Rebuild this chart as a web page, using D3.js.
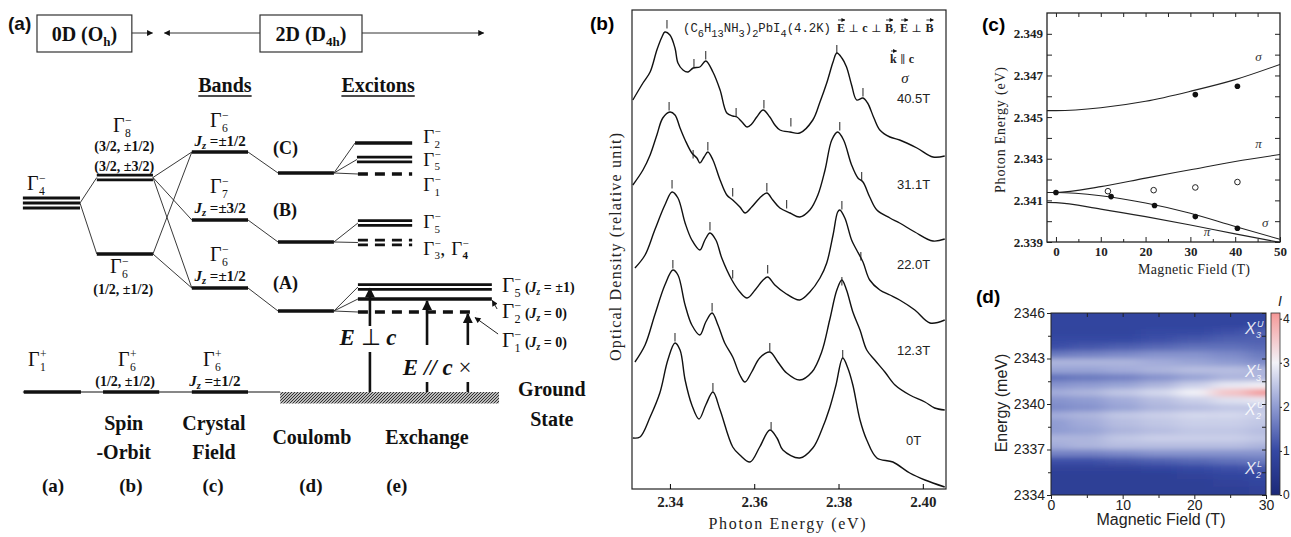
<!DOCTYPE html>
<html>
<head>
<meta charset="utf-8">
<script src="https://cdn.jsdelivr.net/npm/d3@7"></script>
<style>
  body { margin: 0; background: #fff; }
  svg { display: block; }
</style>
</head>
<body>
<svg id="fig" width="1291" height="537"></svg>
<script>
// ---- panel (b): spectra, [photon energy (eV), optical density (relative, offset)] ----
var spec405 = [[2.3312,38.9],[2.3336,40.6],[2.3353,41.7],[2.3369,43.9],[2.3381,45.2],[2.3388,45.7],[2.3400,45.4],[2.3412,44.1],[2.3419,42.6],[2.3431,41.9],[2.3443,41.7],[2.3455,42.1],[2.3471,42.2],[2.3485,42.8],[2.3502,41.7],[2.3519,39.9],[2.3535,37.6],[2.3549,37.3],[2.3559,37.2],[2.3571,36.7],[2.3583,36.2],[2.3594,36.5],[2.3606,37.2],[2.3621,37.9],[2.3637,37.2],[2.3649,36.4],[2.3661,35.9],[2.3685,35.7],[2.3708,35.6],[2.3739,36.9],[2.3756,38.7],[2.3772,40.6],[2.3787,42.7],[2.3796,43.6],[2.3808,43.1],[2.3819,42.2],[2.3831,40.4],[2.3843,38.9],[2.3858,39.1],[2.3869,38.6],[2.3884,37.1],[2.3898,35.9],[2.3922,35.2],[2.3945,34.9],[2.3986,34.1],[2.4024,33.2],[2.4052,33.3]];
var spec311 = [[2.3312,30.4],[2.3336,31.9],[2.3353,33.4],[2.3369,35.4],[2.3383,37.1],[2.3400,37.7],[2.3412,37.4],[2.3424,36.1],[2.3436,34.9],[2.3452,33.6],[2.3464,33.1],[2.3471,32.6],[2.3481,33.2],[2.3490,33.7],[2.3502,32.9],[2.3519,30.9],[2.3535,29.4],[2.3549,28.9],[2.3566,28.2],[2.3578,27.6],[2.3594,28.2],[2.3613,29.1],[2.3630,29.6],[2.3644,28.9],[2.3661,28.1],[2.3685,27.6],[2.3708,27.2],[2.3732,27.9],[2.3751,29.4],[2.3768,31.9],[2.3784,34.9],[2.3798,35.7],[2.3812,34.9],[2.3831,32.4],[2.3846,31.1],[2.3858,30.7],[2.3874,29.2],[2.3891,27.9],[2.3922,27.1],[2.3945,26.6],[2.3981,25.7],[2.4024,24.8],[2.4052,25.0]];
var spec220 = [[2.3317,22.1],[2.3341,23.4],[2.3364,25.9],[2.3388,28.4],[2.3405,29.7],[2.3419,29.1],[2.3436,26.6],[2.3452,24.9],[2.3471,23.9],[2.3483,24.9],[2.3495,25.6],[2.3509,24.9],[2.3523,23.1],[2.3547,20.9],[2.3566,19.7],[2.3583,19.1],[2.3602,19.9],[2.3621,20.9],[2.3632,21.2],[2.3649,20.4],[2.3673,19.6],[2.3708,18.9],[2.3732,19.7],[2.3756,21.1],[2.3772,22.6],[2.3787,25.4],[2.3798,27.7],[2.3803,27.9],[2.3815,27.1],[2.3831,24.9],[2.3843,23.9],[2.3858,22.7],[2.3874,20.9],[2.3898,19.9],[2.3922,19.4],[2.3945,18.9],[2.3981,17.9],[2.4017,16.6],[2.4052,16.9]];
var spec123 = [[2.3317,12.7],[2.3341,14.4],[2.3364,17.4],[2.3388,20.4],[2.3407,21.9],[2.3419,21.4],[2.3436,18.4],[2.3452,16.4],[2.3471,15.4],[2.3485,16.7],[2.3500,17.6],[2.3514,16.4],[2.3530,14.6],[2.3549,13.2],[2.3566,11.4],[2.3578,10.7],[2.3594,11.7],[2.3613,13.1],[2.3637,13.7],[2.3656,12.7],[2.3677,11.6],[2.3708,10.9],[2.3737,11.7],[2.3760,13.7],[2.3779,16.9],[2.3796,19.9],[2.3808,20.9],[2.3819,19.9],[2.3834,17.7],[2.3851,15.9],[2.3867,13.9],[2.3886,12.9],[2.3910,11.7],[2.3934,10.4],[2.3969,9.4],[2.4005,8.7],[2.4028,8.1],[2.4052,7.9]];
var spec0 = [[2.3312,5.1],[2.3329,5.2],[2.3353,7.2],[2.3376,9.6],[2.3395,12.9],[2.3412,14.6],[2.3424,13.9],[2.3436,10.9],[2.3452,8.4],[2.3469,7.0],[2.3485,8.4],[2.3502,9.7],[2.3519,7.9],[2.3549,4.2],[2.3566,3.4],[2.3590,2.7],[2.3613,4.2],[2.3637,5.9],[2.3654,5.1],[2.3668,3.9],[2.3708,3.1],[2.3739,4.1],[2.3760,5.9],[2.3779,8.1],[2.3794,10.4],[2.3810,13.1],[2.3822,12.1],[2.3834,10.4],[2.3851,6.9],[2.3867,4.9],[2.3891,3.1],[2.3929,2.7],[2.3969,1.6],[2.4005,0.9],[2.4052,0.2]];
var specFields = ["40.5T", "31.1T", "22.0T", "12.3T", "0T"];
var specLabelOd = [38.6, 30.0, 22.0, 13.4, 4.4];
// peak markers [energy, top of marker]
var peaks405 = [[2.3393,46.9],[2.3457,43.0],[2.3485,43.8],[2.3557,38.1],[2.3623,38.9],[2.3687,37.1],[2.3796,44.4],[2.3858,40.1]];
var peaks311 = [[2.3398,38.7],[2.3455,33.9],[2.3490,34.7],[2.3549,30.1],[2.3630,30.6],[2.3677,28.9],[2.3803,36.7],[2.3855,31.7]];
var peaks220 = [[2.3405,30.9],[2.3495,26.7],[2.3549,21.9],[2.3632,22.4],[2.3808,28.8],[2.3853,23.7]];
var peaks123 = [[2.3407,22.9],[2.3500,18.6],[2.3637,14.6],[2.3808,21.2]];
var peaks0 = [[2.3412,15.6],[2.3502,10.6],[2.3640,6.7],[2.3810,13.9]];
var bTicks = [2.34, 2.36, 2.38, 2.40];

// ---- panel (c): Zeeman fan ----
var cCurveField = [-2, 0, 10, 20, 30, 40, 50];
var cSigmaUp  = [2.34531, 2.34531, 2.34545, 2.34576, 2.34624, 2.34680, 2.34753];
var cPiUp     = [2.34138, 2.34138, 2.34166, 2.34207, 2.34247, 2.34287, 2.34320];
var cSigmaLow = [2.34138, 2.34138, 2.34122, 2.34087, 2.34038, 2.33974, 2.33913];
var cPiLow    = [2.34090, 2.34089, 2.34058, 2.34022, 2.33982, 2.33939, 2.33898];
var cDotField = [0, 12.3, 22.0, 31.1, 40.5];
var cDotLow   = [2.34138, 2.34118, 2.34075, 2.34022, 2.33966];
var cDotUpField = [31.1, 40.5];
var cDotUp    = [2.34608, 2.34648];
var cOpenField = [11.6, 21.8, 31.1, 40.5];
var cOpen     = [2.34144, 2.34149, 2.34162, 2.34188];
var cYTicks = [2.339, 2.340, 2.341, 2.342, 2.343, 2.344, 2.345, 2.346, 2.347, 2.348, 2.349];
var cXTicks = [0, 10, 20, 30, 40, 50];

// ---- panel (d): intensity map, rows = energy (meV), cols = field (T) ----
var dFields = [0, 5, 10, 15, 20, 25, 30];
var dEnergies = [2345.75, 2345.25, 2344.75, 2344.25, 2343.75, 2343.25, 2342.75, 2342.25, 2341.75, 2341.25, 2340.75, 2340.25,
                 2339.75, 2339.25, 2338.75, 2338.25, 2337.75, 2337.25, 2336.75, 2336.25, 2335.75, 2335.25, 2334.75, 2334.25];
var dIntensity = [
  [0.9,0.9,0.9,0.9,0.9,0.9,0.9],
  [0.9,0.9,0.9,0.9,0.9,0.9,1.0],
  [0.9,0.9,0.9,1.0,1.0,1.1,1.3],
  [1.0,1.0,1.0,1.1,1.2,1.3,1.3],
  [1.1,1.2,1.3,1.4,1.5,1.5,1.4],
  [1.6,1.7,1.8,1.9,1.9,1.8,1.6],
  [2.3,2.3,2.3,2.2,2.1,2.0,1.8],
  [2.1,2.1,2.2,2.3,2.4,2.4,2.3],
  [1.5,1.6,1.7,1.9,2.1,2.3,2.3],
  [1.9,2.0,2.1,2.3,2.6,2.9,3.0],
  [2.2,2.3,2.5,2.7,3.0,3.6,4.1],
  [1.9,2.0,2.2,2.4,2.6,2.8,2.9],
  [1.8,1.9,2.1,2.3,2.4,2.5,2.5],
  [2.2,2.3,2.5,2.6,2.7,2.7,2.6],
  [2.0,2.2,2.4,2.5,2.6,2.6,2.5],
  [2.0,2.1,2.3,2.4,2.5,2.5,2.4],
  [2.3,2.3,2.5,2.6,2.6,2.6,2.5],
  [2.2,2.3,2.4,2.4,2.4,2.4,2.3],
  [1.7,1.7,1.8,1.9,1.9,1.9,1.9],
  [1.1,1.1,1.2,1.3,1.4,1.5,1.6],
  [0.8,0.8,0.8,0.9,1.0,1.1,1.2],
  [0.7,0.7,0.7,0.7,0.8,0.9,1.0],
  [0.7,0.7,0.7,0.7,0.7,0.8,0.9],
  [0.7,0.7,0.7,0.7,0.7,0.7,0.8]];
var dYTicks = [2334, 2337, 2340, 2343, 2346];
var dXTicks = [0, 10, 20, 30];
var dBarTicks = [0, 1, 2, 3, 4];
var dBandNames = [["3","U",2344.6],["3","L",2341.8],["2","U",2339.3],["2","L",2335.4]];

// ---- panel (a): level diagram, [x from, x to, energy, lines, dashed] in diagram units ----
var levelsA = [
  [0.6, 12.5, 75.6, 3, 0], [16, 27.7, 85.8, 2, 0], [16, 27.7, 55.2, 1, 0],
  [35.8, 47.5, 96, 1, 0], [35.8, 47.5, 68.8, 1, 0], [35.8, 47.5, 41.6, 1, 0],
  [53.75, 65.4, 87.6, 1, 0], [53.75, 65.4, 60, 1, 0], [53.75, 65.4, 32.4, 1, 0],
  [69.8, 81.7, 99.6, 1, 0], [70.2, 81.7, 93, 2, 0], [70.4, 81.7, 87.2, 1, 1],
  [70.4, 81.7, 67.6, 2, 0], [70.4, 81.7, 59.8, 2, 1],
  [70.4, 98.3, 42, 2, 0], [70.4, 98.3, 37.2, 1, 0], [70.4, 95.2, 32, 1, 1],
  [0.8, 12.7, 0, 1, 0], [17.3, 29, 0, 1, 0], [35.8, 47.5, 0, 1, 0]];
var linksA = [
  [12.5,75.6,16,85.8], [12.5,75.6,16,55.2],
  [27.7,85.8,35.8,96], [27.7,85.8,35.8,68.8], [27.7,85.8,35.8,41.6],
  [27.7,55.2,35.8,96], [27.7,55.2,35.8,41.6],
  [47.5,96,53.75,87.6], [47.5,68.8,53.75,60], [47.5,41.6,53.75,32.4],
  [65.4,87.6,69.8,99.6], [65.4,87.6,70.2,93], [65.4,87.6,70.4,87.2],
  [65.4,60,70.4,67.6], [65.4,60,70.4,59.8],
  [65.4,32.4,70.4,42], [65.4,32.4,70.4,37.2], [65.4,32.4,70.4,32]];
var stageNames = [["Spin","-Orbit",21.6], ["Crystal","Field",40.4], ["Coulomb","",60.8], ["Exchange","",84.8]];
var stageLetters = ["(a)", "(b)", "(c)", "(d)", "(e)"];
var stageLetterU = [6.9, 23.1, 40.2, 60.6, 78.5];

var serif = "Liberation Serif, Times New Roman, serif";
var sans = "Liberation Sans, Arial, sans-serif";
var mono = "Liberation Mono, Courier New, monospace";
var symb = "DejaVu Serif, serif";

var svg = d3.select("#fig");
svg.append("rect").attr("width", 1291).attr("height", 537).attr("fill", "#fff");
var defs = svg.append("defs");

function marker(id, w, h) {
  defs.append("marker").attr("id", id).attr("viewBox", "0 0 10 10").attr("refX", 9).attr("refY", 5)
    .attr("markerWidth", w).attr("markerHeight", h).attr("markerUnits", "userSpaceOnUse").attr("orient", "auto")
    .append("path").attr("d", "M0,0 L10,5 L0,10 z").attr("fill", "#111");
}
marker("headBig", 11, 10);
marker("headSmall", 7, 6);
marker("headTiny", 4, 4);

// =================== panel (a) ===================
var ax = d3.scaleLinear().domain([0, 100]).range([20, 500]);
var ay = d3.scaleLinear().domain([0, 100]).range([392, 142]);
var gA = svg.append("g").attr("font-family", serif).attr("fill", "#111");

gA.append("text").attr("x", 8).attr("y", 30).attr("font-family", sans).attr("font-weight", "bold").attr("font-size", 19).text("(a)");

// header boxes
[["0D (O", "h", ")", 3.54, 23.3], ["2D (D", "4h", ")", 50, 71.25]].forEach(function(b) {
  gA.append("rect").attr("x", ax(b[3])).attr("y", 15).attr("width", ax(b[4]) - ax(b[3])).attr("height", 37)
    .attr("fill", "none").attr("stroke", "#333").attr("stroke-width", 1.2);
  var t = gA.append("text").attr("x", (ax(b[3]) + ax(b[4])) / 2).attr("y", 41).attr("text-anchor", "middle")
    .attr("font-weight", "bold").attr("font-size", 20);
  t.append("tspan").text(b[0]);
  t.append("tspan").attr("dy", 5).attr("font-size", 13).text(b[1]);
  t.append("tspan").attr("dy", -5).text(b[2]);
});
[[23.3, 27.6], [50, 30.1], [71.25, 96.6]].forEach(function(a) {
  gA.append("line").attr("x1", ax(a[0])).attr("x2", ax(a[1])).attr("y1", 33).attr("y2", 33)
    .attr("stroke", "#333").attr("stroke-width", 1).attr("marker-end", "url(#headSmall)");
});

// section titles
[["Bands", 42.7], ["Excitons", 74.6]].forEach(function(s) {
  var t = gA.append("text").attr("x", ax(s[1])).attr("y", 92).attr("text-anchor", "middle")
    .attr("font-weight", "bold").attr("font-size", 20).text(s[0]);
  var w = t.node().getComputedTextLength();
  gA.append("line").attr("x1", ax(s[1]) - w / 2).attr("x2", ax(s[1]) + w / 2).attr("y1", 96).attr("y2", 96)
    .attr("stroke", "#111").attr("stroke-width", 1.4);
});

// hatched ground state
var pat = defs.append("pattern").attr("id", "hatch").attr("patternUnits", "userSpaceOnUse").attr("width", 3).attr("height", 3);
pat.append("rect").attr("width", 3).attr("height", 3).attr("fill", "#bbb");
pat.append("path").attr("d", "M-1,1 L1,-1 M0,3 L3,0 M2,4 L4,2").attr("stroke", "#222").attr("stroke-width", 0.9);
gA.append("rect").attr("x", ax(54.2)).attr("y", ay(0)).attr("width", ax(99.8) - ax(54.2)).attr("height", ay(-4.6) - ay(0))
  .attr("fill", "url(#hatch)");
gA.append("line").attr("x1", ax(0.6)).attr("x2", ax(54.2)).attr("y1", ay(0)).attr("y2", ay(0)).attr("stroke", "#111").attr("stroke-width", 1.2);

// connectors
gA.selectAll("line.link").data(linksA).join("line").attr("class", "link")
  .attr("x1", d => ax(d[0])).attr("y1", d => ay(d[1])).attr("x2", d => ax(d[2])).attr("y2", d => ay(d[3]))
  .attr("stroke", "#222").attr("stroke-width", 0.9);

// levels
levelsA.forEach(function(l) {
  var n = l[3], sp = n === 3 ? 5 : 4.6, sw = n === 1 ? 3.4 : 2.8;
  for (var k = 0; k < n; k++) {
    var off = (k - (n - 1) / 2) * sp;
    gA.append("line").attr("x1", ax(l[0])).attr("x2", ax(l[1])).attr("y1", ay(l[2]) + off).attr("y2", ay(l[2]) + off)
      .attr("stroke", "#111").attr("stroke-width", sw).attr("stroke-dasharray", l[4] ? "10,7" : null);
  }
});

function gam(x, y, sub, sup, fs, bold) {
  gA.append("text").attr("x", x).attr("y", y).attr("font-size", fs).text("Γ");
  gA.append("text").attr("x", x + fs * 0.6).attr("y", y - fs * 0.4).attr("font-size", fs * 0.58).text(sup);
  gA.append("text").attr("x", x + fs * 0.6).attr("y", y + fs * 0.26).attr("font-size", fs * 0.58)
    .attr("font-weight", bold ? "bold" : null).text(sub);
  return x + fs * 0.6 + fs * 0.4;
}
function jz(cx, y, rest, fs, anchor) {
  var t = gA.append("text").attr("x", cx).attr("y", y).attr("text-anchor", anchor || "middle")
    .attr("font-weight", "bold").attr("font-size", fs);
  t.append("tspan").attr("font-style", "italic").text("J");
  t.append("tspan").attr("font-style", "italic").attr("font-size", fs * 0.7).attr("dy", 3).text("z");
  t.append("tspan").attr("dy", -3).text(rest);
}
function bold(cx, y, s, fs, anchor) {
  gA.append("text").attr("x", cx).attr("y", y).attr("text-anchor", anchor || "middle")
    .attr("font-weight", "bold").attr("font-size", fs).text(s);
}

gam(ax(1.46), ay(80.8), "4", "−", 20);
gam(ax(19.4), ay(104), "8", "−", 20);
bold(ax(21.7), ay(96.4), "(3/2, ±1/2)", 14);
bold(ax(21.7), ay(88.4), "(3/2, ±3/2)", 14);
gam(ax(18.75), ay(47.6), "6", "−", 20);
bold(ax(21.5), ay(39.2), "(1/2, ±1/2)", 14);
gam(ax(39.6), ay(106), "6", "−", 20);
jz(ax(41.7), ay(98.4), " =±1/2", 15);
bold(ax(52.7), ay(95.2), "(C)", 18, "start");
gam(ax(39.6), ay(79.6), "7", "−", 20);
jz(ax(41.7), ay(71.6), " =±3/2", 15);
bold(ax(52.7), ay(70.4), "(B)", 18, "start");
gam(ax(39.6), ay(52.4), "6", "−", 20);
jz(ax(41.7), ay(44.4), " =±1/2", 15);
bold(ax(52.7), ay(41.2), "(A)", 18, "start");
gam(ax(1.67), ay(10.4), "1", "+", 20);
gam(ax(20.4), ay(10.4), "6", "+", 20);
bold(ax(21.9), ay(2.4), "(1/2, ±1/2)", 14);
gam(ax(38.1), ay(10.4), "6", "+", 20);
jz(ax(40.6), ay(2.4), " =±1/2", 15);

gam(ax(84), ay(99.6), "2", "−", 19);
gam(ax(84), ay(90.6), "5", "−", 19);
gam(ax(84), ay(80.4), "1", "−", 19);
gam(ax(84), ay(65.6), "5", "−", 19);
var xe = gam(ax(84), ay(55), "3", "−", 19);
gA.append("text").attr("x", xe - 2).attr("y", ay(55)).attr("font-size", 20).text(",");
gam(xe + 9, ay(55), "4", "−", 19, true);
[["5", " = ±1)", 40], ["2", " = 0)", 29.6], ["1", " = 0)", 18]].forEach(function(s) {
  var xr = gam(ax(100.4), ay(s[2]), s[0], "−", 21);
  var t = gA.append("text").attr("x", xr + 2).attr("y", ay(s[2])).attr("font-weight", "bold").attr("font-size", 14);
  t.append("tspan").text("(");
  t.append("tspan").attr("font-style", "italic").text("J");
  t.append("tspan").attr("font-style", "italic").attr("font-size", 9.5).attr("dy", 3).text("z");
  t.append("tspan").attr("dy", -3).text(s[1]);
});

// pointer arrows to Γ2 and Γ1 lines
[[99.4, 33.2, 98.4, 36.6], [99.6, 23.2, 94.8, 29.8]].forEach(function(a) {
  gA.append("line").attr("x1", ax(a[0])).attr("y1", ay(a[1])).attr("x2", ax(a[2])).attr("y2", ay(a[3]))
    .attr("stroke", "#222").attr("stroke-width", 1).attr("marker-end", "url(#headSmall)");
});

// optical transitions
[[72.9, 0, 16, 0], [72.9, 26.4, 41.4, 1], [84.8, 18.8, 36.4, 1], [93.3, 18.8, 31.2, 1], [84.8, 0, 4, 0], [93.3, 0, 4, 0]].forEach(function(a) {
  gA.append("line").attr("x1", ax(a[0])).attr("x2", ax(a[0])).attr("y1", ay(a[1])).attr("y2", ay(a[2]))
    .attr("stroke", "#111").attr("stroke-width", 2.6).attr("marker-end", a[3] ? "url(#headBig)" : null);
});
var t1 = gA.append("text").attr("x", ax(72.5)).attr("y", ay(18.8)).attr("text-anchor", "middle").attr("font-size", 23).attr("font-weight", "bold");
t1.append("tspan").attr("font-style", "italic").text("E");
t1.append("tspan").attr("font-weight", "normal").text(" ⊥ ");
t1.append("tspan").attr("font-style", "italic").text("c");
var t2 = gA.append("text").attr("x", ax(86.9)).attr("y", ay(6.8)).attr("text-anchor", "middle").attr("font-size", 23).attr("font-weight", "bold");
t2.append("tspan").attr("font-style", "italic").text("E // c ");
t2.append("tspan").attr("font-weight", "normal").text("×");

bold(ax(110.8), ay(-1.6), "Ground", 20);
bold(ax(110.8), ay(-13.6), "State", 20);
stageNames.forEach(function(s) {
  if (s[1]) {
    bold(ax(s[2]), ay(-15.2), s[0], 20);
    bold(ax(s[2]), ay(-26.8), s[1], 20);
  } else {
    bold(ax(s[2]), ay(-20.8), s[0], 20);
  }
});
stageLetters.forEach(function(s, i) { bold(ax(stageLetterU[i]), ay(-40), s, 19); });

// =================== panel (b) ===================
var xB = d3.scaleLinear().domain([2.331, 2.4055]).range([632, 946]);
var yB = d3.scaleLinear().domain([0, 48]).range([489, 9]);
var gB = svg.append("g");
gB.append("text").attr("x", 590).attr("y", 30).attr("font-family", sans).attr("font-weight", "bold").attr("font-size", 19).text("(b)");
gB.append("rect").attr("x", 632).attr("y", 10).attr("width", 314).attr("height", 479)
  .attr("fill", "none").attr("stroke", "#222").attr("stroke-width", 1.2);

var lineB = d3.line().x(d => xB(d[0])).y(d => yB(d[1])).curve(d3.curveCatmullRom.alpha(0.5));
gB.selectAll("path.spec").data([spec405, spec311, spec220, spec123, spec0]).join("path").attr("class", "spec")
  .attr("d", lineB).attr("fill", "none").attr("stroke", "#111").attr("stroke-width", 1.4);
[peaks405, peaks311, peaks220, peaks123, peaks0].forEach(function(pk) {
  gB.selectAll(null).data(pk).join("line")
    .attr("x1", d => xB(d[0])).attr("x2", d => xB(d[0])).attr("y1", d => yB(d[1])).attr("y2", d => yB(d[1] - 0.85))
    .attr("stroke", "#222").attr("stroke-width", 1);
});
gB.selectAll("text.fld").data(specFields).join("text").attr("class", "fld")
  .attr("x", xB(2.3978)).attr("y", (d, i) => yB(specLabelOd[i])).attr("text-anchor", "middle")
  .attr("font-family", sans).attr("font-size", 13).attr("fill", "#222").text(d => d);

var axB = gB.append("g").attr("transform", "translate(0,489)")
  .call(d3.axisBottom(xB).tickValues(bTicks).tickSize(-5).tickPadding(7).tickFormat(d3.format(".2f")));
axB.select(".domain").remove();
axB.selectAll("text").attr("font-family", serif).attr("font-weight", "bold").attr("font-size", 15).attr("fill", "#222");
gB.append("text").attr("x", 787).attr("y", 529).attr("text-anchor", "middle").attr("font-family", serif)
  .attr("font-size", 16).attr("textLength", 157).attr("lengthAdjust", "spacing").attr("fill", "#222").text("Photon Energy (eV)");
gB.append("text").attr("transform", "translate(621,247) rotate(-90)").attr("text-anchor", "middle").attr("font-family", serif)
  .attr("font-size", 16).attr("textLength", 228).attr("lengthAdjust", "spacing").attr("fill", "#222").text("Optical Density (relative unit)");

// header: formula in typewriter face
var hdr = gB.append("text").attr("x", 683).attr("y", 32).attr("font-family", mono).attr("font-size", 12.5)
  .attr("textLength", 148).attr("lengthAdjust", "spacingAndGlyphs").attr("fill", "#222");
[["(C", 0], ["6", 1], ["H", 0], ["13", 1], ["NH", 0], ["3", 1], [")", 0], ["2", 1], ["PbI", 0], ["4", 1], ["(4.2K)", 0]].forEach(function(p, i, arr) {
  var prev = i > 0 ? arr[i - 1][1] : 0;
  hdr.append("tspan").attr("dy", (p[1] - prev) * 5).attr("font-size", p[1] ? 10.5 : 12.5).text(p[0]);
});
// vector relations: pieces written one after another, vector arrows drawn over the letters
function vecSeq(x, y, parts, fs) {
  parts.forEach(function(p) {
    var t = gB.append("text").attr("x", x).attr("y", y).attr("font-family", p[1] ? serif : symb)
      .attr("font-weight", p[1] ? "bold" : "normal").attr("font-size", p[1] ? fs + 1 : fs)
      .attr("fill", "#222").style("white-space", "pre").text(p[0]);
    var w = t.node().getComputedTextLength();
    if (p[2]) {
      gB.append("line").attr("x1", x + 1).attr("x2", x + w).attr("y1", y - fs - 1).attr("y2", y - fs - 1)
        .attr("stroke", "#222").attr("stroke-width", 0.9).attr("marker-end", "url(#headTiny)");
    }
    x += w;
  });
}
vecSeq(837, 32, [["E", 1, 1], [" ⊥ ", 0], ["c", 1], [" ⊥ ", 0], ["B", 1, 1], [", ", 0], ["E", 1, 1], [" ⊥ ", 0], ["B", 1, 1]], 11);
vecSeq(890, 63, [["k", 1, 1], [" \u2225 ", 0], ["c", 1]], 11);
gB.append("text").attr("x", 905).attr("y", 83).attr("text-anchor", "middle").attr("font-family", serif).attr("font-style", "italic")
  .attr("font-size", 15).attr("fill", "#222").text("σ");

// =================== panel (c) ===================
var xC = d3.scaleLinear().domain([-2, 50]).range([1047, 1280]);
var yC = d3.scaleLinear().domain([2.339, 2.350]).range([242, 13]);
var gC = svg.append("g");
gC.append("text").attr("x", 982).attr("y", 31).attr("font-family", sans).attr("font-weight", "bold").attr("font-size", 19).text("(c)");
defs.append("clipPath").attr("id", "clipC").append("rect").attr("x", 1047).attr("y", 13).attr("width", 233).attr("height", 229);
var lineC = d3.line().x(d => xC(d[0])).y(d => yC(d[1])).curve(d3.curveMonotoneX);
[cSigmaUp, cPiUp, cSigmaLow, cPiLow].forEach(function(s) {
  gC.append("path").datum(cCurveField.map((f, i) => [f, s[i]])).attr("d", lineC).attr("clip-path", "url(#clipC)")
    .attr("fill", "none").attr("stroke", "#222").attr("stroke-width", 1.1);
});
gC.selectAll("circle.dl").data(cDotField).join("circle").attr("class", "dl")
  .attr("cx", d => xC(d)).attr("cy", (d, i) => yC(cDotLow[i])).attr("r", 2.8).attr("fill", "#111");
gC.selectAll("circle.du").data(cDotUpField).join("circle").attr("class", "du")
  .attr("cx", d => xC(d)).attr("cy", (d, i) => yC(cDotUp[i])).attr("r", 2.8).attr("fill", "#111");
gC.selectAll("circle.op").data(cOpenField).join("circle").attr("class", "op")
  .attr("cx", d => xC(d)).attr("cy", (d, i) => yC(cOpen[i])).attr("r", 2.8).attr("fill", "#fff").attr("stroke", "#222").attr("stroke-width", 1);
[["σ", 44.5, 2.3477], ["π", 44.5, 2.3435], ["σ", 46, 2.3397], ["π", 33, 2.3393]].forEach(function(s) {
  gC.append("text").attr("x", xC(s[1])).attr("y", yC(s[2])).attr("font-family", serif).attr("font-style", "italic")
    .attr("font-size", 13).attr("fill", "#333").text(s[0]);
});
function styleAx(g) {
  g.select(".domain").remove();
  g.selectAll("line").attr("stroke", "#222");
  g.selectAll("text").attr("font-family", serif).attr("font-weight", "bold").attr("font-size", 13).attr("fill", "#222");
}
styleAx(gC.append("g").attr("transform", "translate(0,242)")
  .call(d3.axisBottom(xC).tickValues(cXTicks).tickSize(-5).tickPadding(5)));
styleAx(gC.append("g").attr("transform", "translate(0,242)")
  .call(d3.axisBottom(xC).tickValues([5, 15, 25, 35, 45]).tickSize(-3).tickFormat("")));
styleAx(gC.append("g").attr("transform", "translate(0,13)")
  .call(d3.axisTop(xC).tickValues([0, 5, 10, 15, 20, 25, 30, 35, 40, 45]).tickSize(-4).tickFormat("")));
styleAx(gC.append("g").attr("transform", "translate(1047,0)")
  .call(d3.axisLeft(yC).tickValues(cYTicks).tickSize(-5).tickPadding(4)
    .tickFormat(d => Math.round(d * 1000) % 2 === 1 ? d3.format(".3f")(d) : "")));
styleAx(gC.append("g").attr("transform", "translate(1280,0)")
  .call(d3.axisRight(yC).tickValues(cYTicks).tickSize(-5).tickFormat("")));
gC.append("rect").attr("x", 1047).attr("y", 13).attr("width", 233).attr("height", 229)
  .attr("fill", "none").attr("stroke", "#222").attr("stroke-width", 1.3);
gC.append("text").attr("x", 1194).attr("y", 274).attr("text-anchor", "middle").attr("font-family", serif)
  .attr("font-size", 14).attr("textLength", 112).attr("lengthAdjust", "spacing").attr("fill", "#222").text("Magnetic Field (T)");
gC.append("text").attr("transform", "translate(1005,130) rotate(-90)").attr("text-anchor", "middle").attr("font-family", serif)
  .attr("font-size", 14).attr("textLength", 126).attr("lengthAdjust", "spacing").attr("fill", "#222").text("Photon Energy (eV)");

// =================== panel (d) ===================
var xD = d3.scaleLinear().domain([0, 30]).range([1051, 1266]);
var yD = d3.scaleLinear().domain([2334, 2346]).range([495, 313]);
var colD = d3.scaleLinear().domain([0, 1, 2, 3, 4, 4.13])
  .range(["#1c2978", "#3548a3", "#8f9bd2", "#f2f2f8", "#f5a3a3", "#f39494"]).clamp(true);
var gD = svg.append("g");
gD.append("text").attr("x", 976).attr("y", 303).attr("font-family", sans).attr("font-weight", "bold").attr("font-size", 19).text("(d)");
defs.append("clipPath").attr("id", "clipD").append("rect").attr("x", 1051).attr("y", 313).attr("width", 215).attr("height", 182);
var blur = defs.append("filter").attr("id", "blurD").attr("x", "-10%").attr("y", "-10%").attr("width", "120%").attr("height", "120%");
blur.append("feGaussianBlur").attr("stdDeviation", "9 2.6");
var mapG = gD.append("g").attr("clip-path", "url(#clipD)");
mapG.append("rect").attr("x", 1051).attr("y", 313).attr("width", 215).attr("height", 182).attr("fill", colD(0.8));
var cellG = mapG.append("g").attr("filter", "url(#blurD)");
var cells = [];
dEnergies.forEach(function(e, i) {
  dFields.forEach(function(f, j) { cells.push({ e: e, f: f, i: i, j: j, v: dIntensity[i][j] }); });
});
function fEdge(j, side) {
  if (side < 0) return j === 0 ? dFields[0] - 8 : (dFields[j] + dFields[j - 1]) / 2;
  return j === dFields.length - 1 ? dFields[j] + 8 : (dFields[j] + dFields[j + 1]) / 2;
}
cellG.selectAll("rect").data(cells).join("rect")
  .attr("x", d => xD(fEdge(d.j, -1))).attr("width", d => xD(fEdge(d.j, 1)) - xD(fEdge(d.j, -1)) + 0.5)
  .attr("y", d => yD(d.e + (d.i === 0 ? 1.5 : 0.25)))
  .attr("height", d => yD(d.e - (d.i === dEnergies.length - 1 ? 1.5 : 0.25)) - yD(d.e + (d.i === 0 ? 1.5 : 0.25)) + 0.5)
  .attr("fill", d => colD(d.v));

dBandNames.forEach(function(b) {
  var g = gD.append("g").attr("font-family", sans).attr("font-style", "italic").attr("fill", "#fff").attr("fill-opacity", 0.88);
  g.append("text").attr("x", 1245).attr("y", yD(b[2])).attr("font-size", 16).text("X");
  g.append("text").attr("x", 1256).attr("y", yD(b[2]) + 4).attr("font-size", 9).text(b[0]);
  g.append("text").attr("x", 1257).attr("y", yD(b[2]) - 7).attr("font-size", 9).text(b[1]);
});

function styleD(g) {
  g.select(".domain").remove();
  g.selectAll("line").attr("stroke", "#222");
  g.selectAll("text").attr("font-family", sans).attr("font-size", 14).attr("fill", "#222");
}
var yMinor = [2335.5, 2338.5, 2341.5, 2344.5];
styleD(gD.append("g").attr("transform", "translate(1051,0)").call(d3.axisLeft(yD).tickValues(dYTicks).tickSize(4).tickPadding(2).tickFormat(d3.format("d"))));
styleD(gD.append("g").attr("transform", "translate(1051,0)").call(d3.axisLeft(yD).tickValues(yMinor).tickSize(3).tickFormat("")));
styleD(gD.append("g").attr("transform", "translate(1266,0)").call(d3.axisRight(yD).tickValues(dYTicks.concat(yMinor)).tickSize(-4).tickFormat("")));
styleD(gD.append("g").attr("transform", "translate(0,495)").call(d3.axisBottom(xD).tickValues(dXTicks).tickSize(4).tickPadding(1)));
styleD(gD.append("g").attr("transform", "translate(0,495)").call(d3.axisBottom(xD).tickValues([5, 15, 25]).tickSize(3).tickFormat("")));
styleD(gD.append("g").attr("transform", "translate(0,313)").call(d3.axisTop(xD).tickValues([5, 10, 15, 20, 25]).tickSize(-4).tickFormat("")));
gD.append("rect").attr("x", 1051).attr("y", 313).attr("width", 215).attr("height", 182)
  .attr("fill", "none").attr("stroke", "#222").attr("stroke-width", 1);
gD.append("text").attr("x", 1161).attr("y", 525).attr("text-anchor", "middle").attr("font-family", sans)
  .attr("font-size", 16).attr("fill", "#222").text("Magnetic Field (T)");
gD.append("text").attr("transform", "translate(1007,403) rotate(-90)").attr("text-anchor", "middle").attr("font-family", sans)
  .attr("font-size", 16).attr("fill", "#222").text("Energy (meV)");

// colour bar
var yBar = d3.scaleLinear().domain([0, 4.13]).range([495, 313]);
var grad = defs.append("linearGradient").attr("id", "barGrad").attr("x1", 0).attr("x2", 0).attr("y1", 1).attr("y2", 0);
colD.domain().forEach(function(v) {
  grad.append("stop").attr("offset", v / 4.13).attr("stop-color", colD(v));
});
gD.append("rect").attr("x", 1271).attr("y", 313).attr("width", 9).attr("height", 182)
  .attr("fill", "url(#barGrad)").attr("stroke", "#333").attr("stroke-width", 0.8);
var barAx = gD.append("g").attr("transform", "translate(1280,0)")
  .call(d3.axisRight(yBar).tickValues(dBarTicks).tickSize(2).tickPadding(1).tickFormat(d3.format("d")));
styleD(barAx);
barAx.selectAll("text").attr("font-size", 12);
gD.append("text").attr("x", 1278).attr("y", 306).attr("font-family", sans).attr("font-style", "italic")
  .attr("font-size", 14).attr("fill", "#222").text("I");
</script>
</body>
</html>
